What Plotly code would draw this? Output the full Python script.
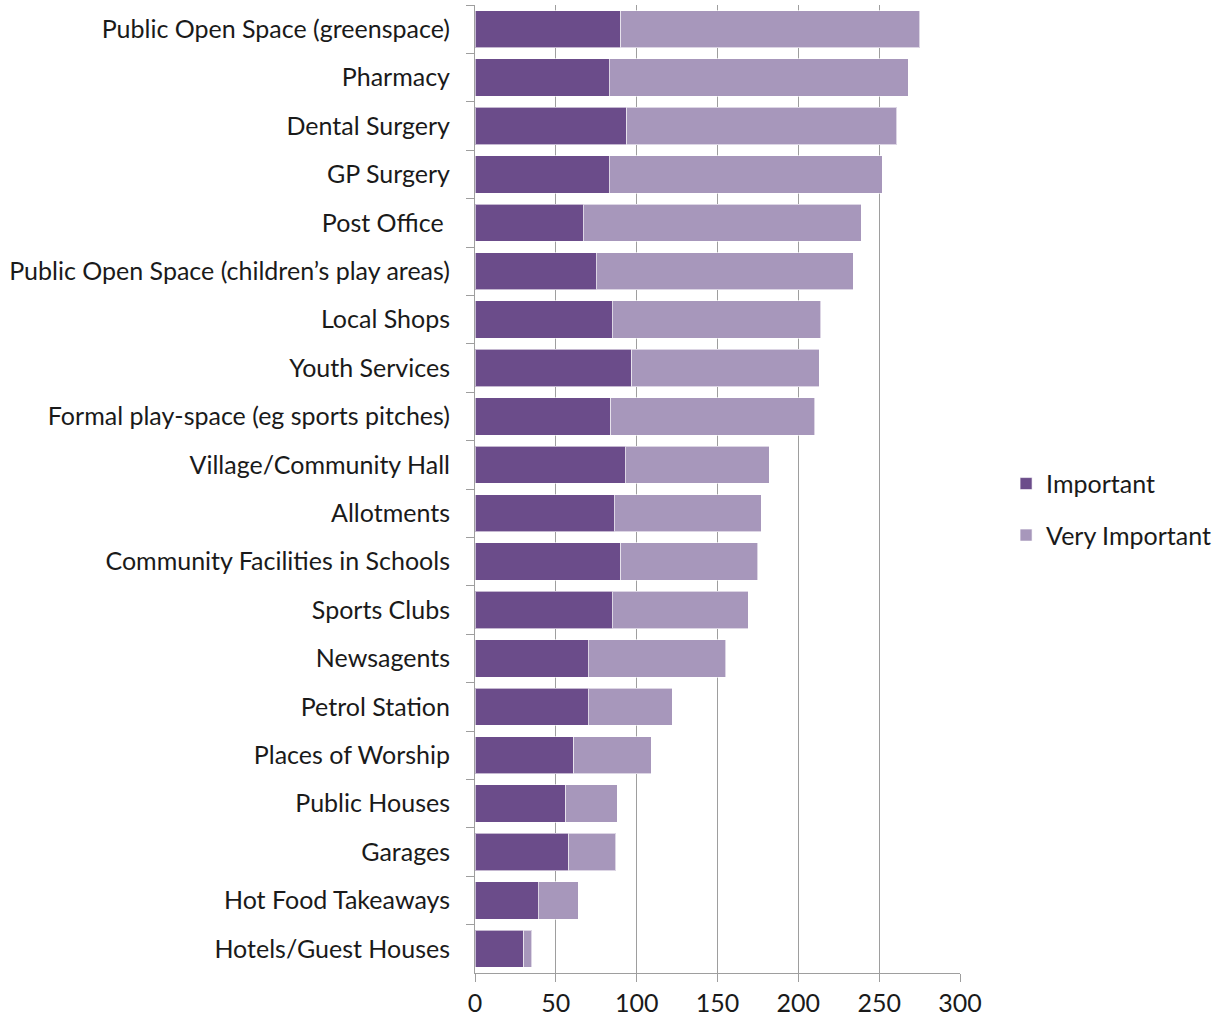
import plotly.graph_objects as go

# Facilities, listed top to bottom
facilities = [
    "Public Open Space (greenspace)",
    "Pharmacy",
    "Dental Surgery",
    "GP Surgery",
    "Post Office ",
    "Public Open Space (children’s play areas)",
    "Local Shops",
    "Youth Services",
    "Formal play-space (eg sports pitches)",
    "Village/Community Hall",
    "Allotments",
    "Community Facilities in Schools",
    "Sports Clubs",
    "Newsagents",
    "Petrol Station",
    "Places of Worship",
    "Public Houses",
    "Garages",
    "Hot Food Takeaways",
    "Hotels/Guest Houses",
]

important = [90, 83, 94, 83, 67, 75, 85, 97, 84, 93, 86, 90, 85, 70, 70, 61, 56, 58, 39, 30]
very_important = [185, 185, 167, 169, 172, 159, 129, 116, 126, 89, 91, 85, 84, 85, 52, 48, 32, 29, 25, 5]

x_ticks = [0, 50, 100, 150, 200, 250, 300]

FONT = "Lato, Carlito, Calibri, sans-serif"
DARK = "#6B4C8A"
LIGHT = "#A797BB"
GRID = "#9E9E9E"

fig = go.Figure()
fig.add_trace(go.Bar(
    y=facilities, x=important, orientation="h", name="Important",
    marker=dict(color=DARK, line=dict(color="rgba(255,255,255,0.6)", width=1)),
    legendgroup="a",
))
fig.add_trace(go.Bar(
    y=facilities, x=very_important, orientation="h", name="Very Important",
    marker=dict(color=LIGHT, line=dict(color="rgba(255,255,255,0.6)", width=1)),
    legendgroup="b",
))

fig.update_layout(
    width=1222, height=1023,
    margin=dict(l=475, r=262, t=5, b=50),
    barmode="stack",
    bargap=0.23,
    plot_bgcolor="white",
    paper_bgcolor="white",
    font=dict(family=FONT, size=25, color="#1a1a1a"),
    legend=dict(
        x=1.095, xanchor="left", y=0.479, yanchor="middle",
        traceorder="grouped", tracegroupgap=16,
        font=dict(family=FONT, size=25, color="#1a1a1a"),
        itemwidth=30,
    ),
    xaxis=dict(
        range=[0, 300], tickvals=x_ticks, ticktext=[str(v) for v in x_ticks],
        showgrid=True, gridcolor=GRID, gridwidth=1,
        showline=True, linecolor=GRID, linewidth=1,
        ticks="outside", ticklen=8, tickcolor=GRID,
        tickfont=dict(size=25),
        zeroline=False, fixedrange=True,
    ),
    yaxis=dict(
        autorange="reversed", type="category",
        showline=True, linecolor=GRID, linewidth=1,
        ticks="outside", ticklen=8, tickcolor=GRID,
        tickson="boundaries", ticklabelstandoff=19,
        showgrid=False, fixedrange=True,
    ),
)

fig.write_html("out.html")
